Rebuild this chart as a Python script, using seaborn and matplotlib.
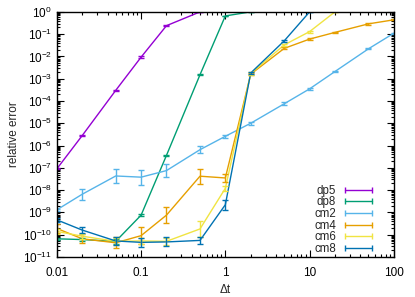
import numpy as np
import pandas as pd
import seaborn as sns
import matplotlib
matplotlib.use("Agg")
import matplotlib.pyplot as plt
from matplotlib.lines import Line2D
from matplotlib.ticker import LogLocator, FixedLocator, FixedFormatter

# time steps
dt = [0.01, 0.02, 0.05, 0.1, 0.2, 0.5, 1, 2, 5, 10, 20, 50, 100]

# relative error per method (values clipped at 1 are the last entry)
dp5 = [9e-8, 2.8e-6, 3e-4, 9.3e-3, 0.24, 1.0]
dp8 = [6.5e-11, 6e-11, 5e-11, 7.5e-10, 3.6e-7, 1.5e-3, 0.66, 1.0]
cm2 = [1.3e-9, 6.5e-9, 4.3e-8, 3.8e-8, 7.5e-8, 6.5e-7, 2.6e-6, 1.0e-5,
       7.5e-5, 3.5e-4, 2.1e-3, 0.022, 0.11]
cm4 = [1.9e-10, 6.5e-11, 4.3e-11, 9e-11, 7.5e-10, 4.2e-8, 3.5e-8, 1.6e-3,
       0.023, 0.06, 0.12, 0.29, 0.44]
cm6 = [1.4e-10, 8.5e-11, 5e-11, 5.2e-11, 5e-11, 1.8e-10, 1.2e-8, 1.7e-3,
       0.033, 0.13, 1.0]
cm8 = [4.6e-10, 1.6e-10, 5.2e-11, 4.5e-11, 4.7e-11, 5.5e-11, 2.2e-9, 1.8e-3,
       0.05, 1.0]

# error bar half widths, in decades
dp5_err = [0.02, 0.03, 0.03, 0.03, 0.02, 0.0]
dp8_err = [0.05, 0.05, 0.1, 0.06, 0.03, 0.03, 0.01, 0.0]
cm2_err = [0.05, 0.25, 0.33, 0.33, 0.29, 0.15, 0.08, 0.06, 0.06, 0.05,
           0.04, 0.03, 0.02]
cm4_err = [0.2, 0.2, 0.25, 0.38, 0.35, 0.33, 0.17, 0.06, 0.05, 0.04,
           0.03, 0.03, 0.02]
cm6_err = [0.1, 0.12, 0.15, 0.15, 0.15, 0.35, 0.1, 0.05, 0.05, 0.04, 0.0]
cm8_err = [0.08, 0.14, 0.2, 0.2, 0.2, 0.15, 0.22, 0.05, 0.04, 0.0]

names = ["dp5", "dp8", "cm2", "cm4", "cm6", "cm8"]
values = [dp5, dp8, cm2, cm4, cm6, cm8]
errors = [dp5_err, dp8_err, cm2_err, cm4_err, cm6_err, cm8_err]
colors = ["#9400d3", "#009e73", "#56b4e9", "#e69f00", "#f0e442", "#0072b2"]

sns.set_theme(style="ticks")
plt.rcParams["font.family"] = ["Liberation Sans", "DejaVu Sans"]
plt.rcParams["mathtext.default"] = "regular"

rows = []
for name, vals in zip(names, values):
    for x, y in zip(dt, vals):
        rows.append({"dt": x, "err": y, "method": name})
df = pd.DataFrame(rows)

fig = plt.figure(figsize=(4.15, 2.97), dpi=100)
ax = fig.add_axes([0.137, 0.135, 0.812, 0.825])

sns.lineplot(data=df, x="dt", y="err", hue="method", hue_order=names,
             palette=colors, linewidth=1.0, ax=ax, legend=False,
             estimator=None, sort=False)

for name, vals, errs, c in zip(names, values, errors, colors):
    v = np.array(vals)
    e = np.array(errs)
    lo = v - v * 10 ** (-e)
    hi = v * 10 ** e - v
    ax.errorbar(dt[:len(v)], v, yerr=[lo, hi], fmt="none", ecolor=c,
                elinewidth=1.0, capsize=2.5, capthick=1.0)

ax.set_xscale("log")
ax.set_yscale("log")
ax.set_xlim(0.01, 100)
ax.set_ylim(1e-11, 1)

ax.xaxis.set_major_locator(FixedLocator([0.01, 0.1, 1, 10, 100]))
ax.xaxis.set_major_formatter(FixedFormatter(["0.01", "0.1", "1", "10", "100"]))
ax.xaxis.set_minor_locator(LogLocator(base=10, subs=np.arange(2, 10), numticks=20))
ax.yaxis.set_major_locator(LogLocator(base=10, numticks=20))
ax.yaxis.set_minor_locator(LogLocator(base=10, subs=np.arange(2, 10), numticks=20))

ax.tick_params(which="both", direction="in", top=True, right=True,
               labelsize=8.5, colors="black", width=0.8)
ax.tick_params(which="major", length=5)
ax.tick_params(which="minor", length=2.5)
ax.tick_params(axis="x", which="major", pad=7)
for s in ax.spines.values():
    s.set_linewidth(1.0)
    s.set_color("black")

ax.set_xlabel("Δt", fontsize=8.5, labelpad=4)
ax.set_ylabel("relative error", fontsize=8.5, labelpad=2)

handles = [Line2D([], [], color=c, linewidth=1.0, marker="|", markersize=5,
                  markeredgewidth=1.0) for c in colors]
ax.legend(handles, names, loc="lower right", bbox_to_anchor=(0.965, -0.02),
          frameon=False, markerfirst=False, numpoints=2, handlelength=2.9,
          fontsize=8.3, labelspacing=-0.03, handletextpad=0.5,
          borderaxespad=0.2)
for t in ax.get_legend().get_texts():
    t.set_ha("right")
ax.get_legend()._legend_box.align = "right"

fig.savefig("out.png", dpi=100)
